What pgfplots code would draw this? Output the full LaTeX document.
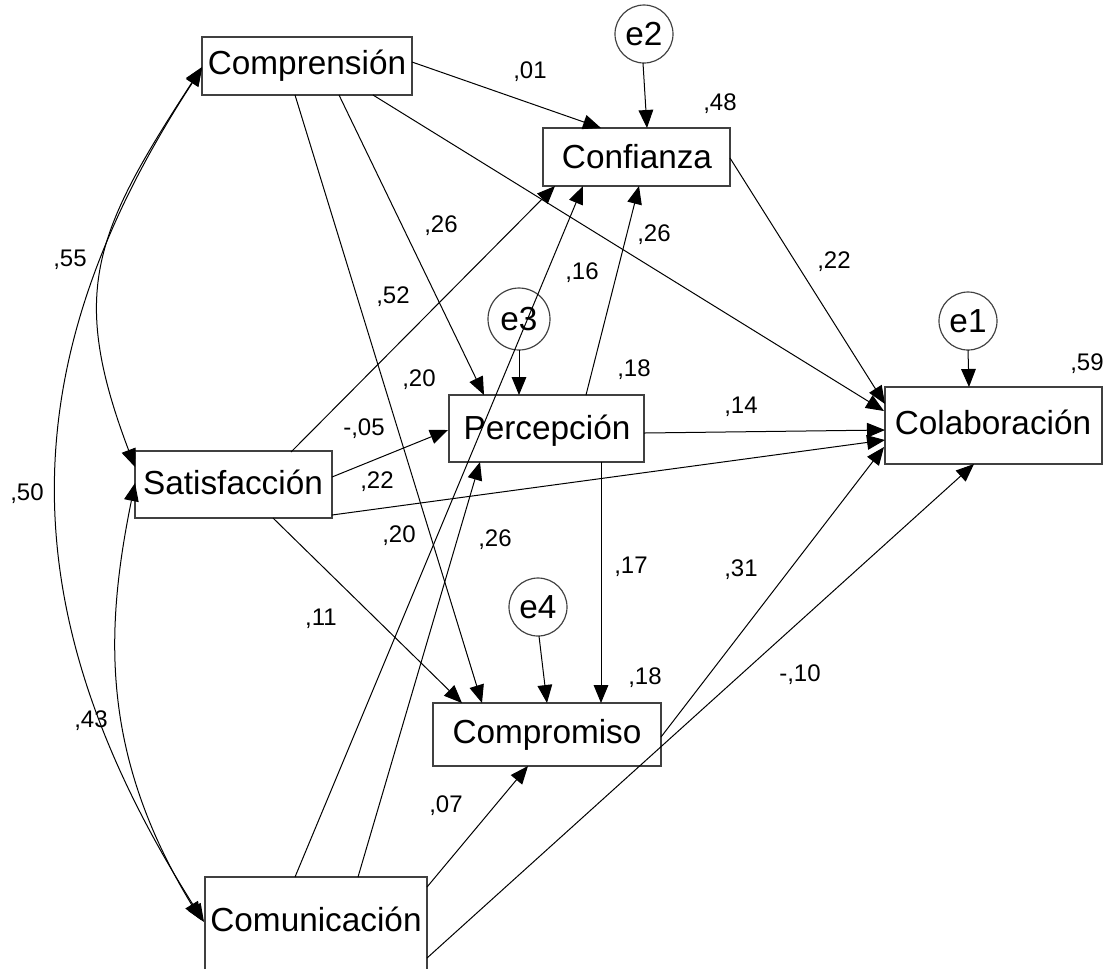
\documentclass[border=0pt]{standalone}
\usepackage{pgfplots}
\pgfplotsset{compat=1.18}
\usepackage{fontspec}
\setmainfont{Liberation Sans}
\usetikzlibrary{arrows.meta}

\tikzset{
  >={Triangle[length=5.4pt,width=4.4pt]},
  var/.style={draw=black!75, line width=0.35pt},
  path/.style={black, solid, line width=0.3pt, ->},
  lab/.style={font=\fontsize{10}{12}\selectfont, inner sep=0pt, text height=7.2pt, text depth=0pt, anchor=center},
  coef/.style={font=\fontsize{7.2}{8}\selectfont, inner sep=0pt, text height=5.2pt, text depth=0pt, anchor=center},
}

\begin{document}
\begin{tikzpicture}
\begin{axis}[
    hide axis,
    scale only axis,
    width=335.1pt, height=290.7pt,
    xmin=0, xmax=1117, ymin=0, ymax=969,
    y dir=reverse,
    clip=false,
  ]
  % boxes
  \draw[var] (axis cs:202,37) rectangle (axis cs:412,95);
  \draw[var] (axis cs:543,128) rectangle (axis cs:730,186);
  \draw[var] (axis cs:135,451) rectangle (axis cs:332,518);
  \draw[var] (axis cs:449,395) rectangle (axis cs:644,462);
  \draw[var] (axis cs:885,387) rectangle (axis cs:1102,464);
  \draw[var] (axis cs:433,703) rectangle (axis cs:661,766);
  \draw[var] (axis cs:205,969) -- (axis cs:205,877) -- (axis cs:427,877) -- (axis cs:427,969);
  \node[lab] at (axis cs:307,62) {Comprensión};
  \node[lab] at (axis cs:637,156) {Confianza};
  \node[lab] at (axis cs:233,482) {Satisfacción};
  \node[lab] at (axis cs:547,427) {Percepción};
  \node[lab] at (axis cs:993,422) {Colaboración};
  \node[lab] at (axis cs:547,731) {Compromiso};
  \node[lab] at (axis cs:316,919) {Comunicación};

  % error terms
  \draw[var] (axis cs:644,34) circle[radius=8.7pt];
  \draw[var] (axis cs:519,319) circle[radius=9.3pt];
  \draw[var] (axis cs:968,321) circle[radius=8.7pt];
  \draw[var] (axis cs:538,607) circle[radius=8.7pt];
  \node[lab] at (axis cs:644,33) {e2};
  \node[lab] at (axis cs:519,318) {e3};
  \node[lab] at (axis cs:968,320) {e1};
  \node[lab] at (axis cs:538,606) {e4};

  % regression paths
  \addplot[path] coordinates {(412,62) (601,128)};
  \addplot[path] coordinates {(373,95) (884,411)};
  \addplot[path] coordinates {(339,95) (484,395)};
  \addplot[path] coordinates {(295,95) (482,703)};
  \addplot[path] coordinates {(643,63) (647,128)};
  \addplot[path] coordinates {(291,452) (555,186)};
  \addplot[path] coordinates {(295,877) (583,186)};
  \addplot[path] coordinates {(586,395) (639,186)};
  \addplot[path] coordinates {(730,158) (885,404)};
  \addplot[path] coordinates {(519,350) (519,395)};
  \addplot[path] coordinates {(332,477) (448,430)};
  \addplot[path] coordinates {(644,433) (885,430)};
  \addplot[path] coordinates {(332,515) (885,440)};
  \addplot[path] coordinates {(358,877) (480,462)};
  \addplot[path] coordinates {(601,462) (601,703)};
  \addplot[path] coordinates {(273,518) (462,703)};
  \addplot[path] coordinates {(539,636) (547,703)};
  \addplot[path] coordinates {(427,887) (528,766)};
  \addplot[path] coordinates {(661,737) (884,447)};
  \addplot[path] coordinates {(427,958) (974,464)};
  \addplot[path] coordinates {(968,350) (969,387)};

  % covariances
  \draw[black, line width=0.3pt, <->] (axis cs:202,67) .. controls (axis cs:95,232) and (axis cs:68,290) .. (axis cs:135,467);
  \draw[black, line width=0.3pt, <->] (axis cs:202,68) .. controls (axis cs:8,365) and (axis cs:8,613) .. (axis cs:204,922);
  \draw[black, line width=0.3pt, <->] (axis cs:135,483) .. controls (axis cs:105,630) and (axis cs:100,754) .. (axis cs:201,920);

  % estimates
  \node[coef] at (axis cs:530,70) {,01};
  \node[coef] at (axis cs:720,102) {,48};
  \node[coef] at (axis cs:441,224) {,26};
  \node[coef] at (axis cs:70,258) {,55};
  \node[coef] at (axis cs:654,233) {,26};
  \node[coef] at (axis cs:582,271) {,16};
  \node[coef] at (axis cs:834,260) {,22};
  \node[coef] at (axis cs:393,295) {,52};
  \node[coef] at (axis cs:1087,362) {,59};
  \node[coef] at (axis cs:634,368) {,18};
  \node[coef] at (axis cs:419,378) {,20};
  \node[coef] at (axis cs:741,405) {,14};
  \node[coef] at (axis cs:364,427) {-,05};
  \node[coef] at (axis cs:377,480) {,22};
  \node[coef] at (axis cs:27,492) {,50};
  \node[coef] at (axis cs:399,534) {,20};
  \node[coef] at (axis cs:495,538) {,26};
  \node[coef] at (axis cs:631,565) {,17};
  \node[coef] at (axis cs:741,568) {,31};
  \node[coef] at (axis cs:321,617) {,11};
  \node[coef] at (axis cs:645,676) {,18};
  \node[coef] at (axis cs:800,673) {-,10};
  \node[coef] at (axis cs:91,719) {,43};
  \node[coef] at (axis cs:446,804) {,07};
\end{axis}
\pgfresetboundingbox
\path (current axis.south west) rectangle (current axis.north east);
\end{tikzpicture}
\end{document}
